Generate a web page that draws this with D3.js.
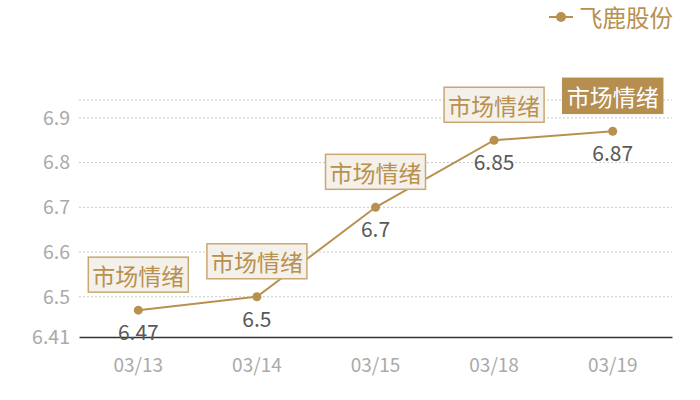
<!DOCTYPE html>
<html>
<head>
<meta charset="utf-8">
<script src="https://cdn.jsdelivr.net/npm/d3@7"></script>
<style>
  body { margin: 0; background: #fff; }
  text { font-family: "Noto Sans CJK SC", "Noto Sans", sans-serif; }
</style>
</head>
<body>
<div id="chart"></div>
<script>
var dates = ["03/13", "03/14", "03/15", "03/18", "03/19"];
var prices = [6.47, 6.5, 6.7, 6.85, 6.87];
var tags = ["市场情绪", "市场情绪", "市场情绪", "市场情绪", "市场情绪"];
var y_ticks = [6.41, 6.5, 6.6, 6.7, 6.8, 6.9];
var y_domain = [6.41, 6.94];
var series_name = "飞鹿股份";

var gold = "#b8914f";
var width = 700, height = 400;
var margin = { top: 100, right: 28, bottom: 63, left: 79 };

var svg = d3.select("#chart").append("svg")
    .attr("width", width)
    .attr("height", height);

var x = d3.scaleBand()
    .domain(dates)
    .range([margin.left, width - margin.right]);

var y = d3.scaleLinear()
    .domain(y_domain)
    .range([height - margin.bottom, margin.top]);

function cx(d) { return x(d) + x.bandwidth() / 2; }

// grid lines
var grid = svg.append("g");
grid.selectAll("line")
    .data(y_ticks.slice(1).concat([y_domain[1]]))
    .enter()
    .append("line")
    .attr("x1", margin.left)
    .attr("x2", width - margin.right)
    .attr("y1", function(d) { return y(d); })
    .attr("y2", function(d) { return y(d); })
    .attr("stroke", "#c8c8c8")
    .attr("stroke-dasharray", "2,2");

// y axis labels
var y_axis = d3.axisLeft(y)
    .tickValues(y_ticks)
    .tickSize(0)
    .tickPadding(9)
    .tickFormat(function(d) { return d; });

svg.append("g")
    .attr("transform", "translate(" + margin.left + ",0)")
    .call(y_axis)
    .call(function(g) { g.select(".domain").remove(); })
    .selectAll("text")
    .attr("fill", "#aaaaaa")
    .style("font-size", "19.5px")
    .style("font-family", '"Noto Sans CJK SC", sans-serif');

// x axis
var x_axis = d3.axisBottom(x).tickSize(0).tickPadding(22);
var xg = svg.append("g")
    .attr("transform", "translate(0," + (height - margin.bottom) + ")")
    .call(x_axis);
xg.select(".domain").attr("stroke", "#333333").attr("stroke-width", 1.3);
xg.selectAll("text")
    .attr("fill", "#aaaaaa")
    .style("font-size", "19px")
    .style("font-family", '"Noto Sans CJK SC", sans-serif');

// line
var line_generator = d3.line()
    .x(function(d, i) { return cx(dates[i]); })
    .y(function(d) { return y(d); });

svg.append("path")
    .attr("d", line_generator(prices))
    .attr("fill", "none")
    .attr("stroke", gold)
    .attr("stroke-width", 2);

svg.selectAll(".pt")
    .data(prices)
    .enter()
    .append("circle")
    .attr("class", "pt")
    .attr("cx", function(d, i) { return cx(dates[i]); })
    .attr("cy", function(d) { return y(d); })
    .attr("r", 4.5)
    .attr("fill", gold);

// value labels
svg.selectAll(".val")
    .data(prices)
    .enter()
    .append("text")
    .attr("class", "val")
    .text(function(d) { return d; })
    .attr("x", function(d, i) { return cx(dates[i]); })
    .attr("y", function(d) { return y(d) + 21; })
    .attr("text-anchor", "middle")
    .attr("dominant-baseline", "central")
    .attr("fill", "#595959")
    .style("font-size", "21px");

// tag boxes
var box_w = 100, box_h = 35;
var tag_g = svg.selectAll(".tag")
    .data(tags)
    .enter()
    .append("g")
    .attr("class", "tag")
    .attr("transform", function(d, i) {
        return "translate(" + cx(dates[i]) + "," + (y(prices[i]) - 18 - box_h / 2) + ")";
    });

tag_g.append("rect")
    .attr("x", -box_w / 2)
    .attr("y", -box_h / 2)
    .attr("width", box_w)
    .attr("height", box_h)
    .attr("fill", function(d, i) { return i == tags.length - 1 ? "#b58e50" : "#f4f0ea"; })
    .attr("stroke", function(d, i) { return i == tags.length - 1 ? "#b58e50" : "#c9a873"; })
    .attr("stroke-width", 1.5);

tag_g.append("text")
    .text(function(d) { return d; })
    .attr("text-anchor", "middle")
    .attr("dominant-baseline", "central")
    .attr("fill", function(d, i) { return i == tags.length - 1 ? "#ffffff" : gold; })
    .style("font-size", "23px");

// legend
var legend = svg.append("g").attr("transform", "translate(549,17)");
legend.append("line")
    .attr("x1", 0).attr("x2", 24)
    .attr("stroke", gold).attr("stroke-width", 2);
legend.append("circle")
    .attr("cx", 12).attr("r", 5)
    .attr("fill", gold);
legend.append("text")
    .text(series_name)
    .attr("x", 30)
    .attr("dominant-baseline", "central")
    .attr("fill", gold)
    .style("font-size", "23.5px");
</script>
</body>
</html>
